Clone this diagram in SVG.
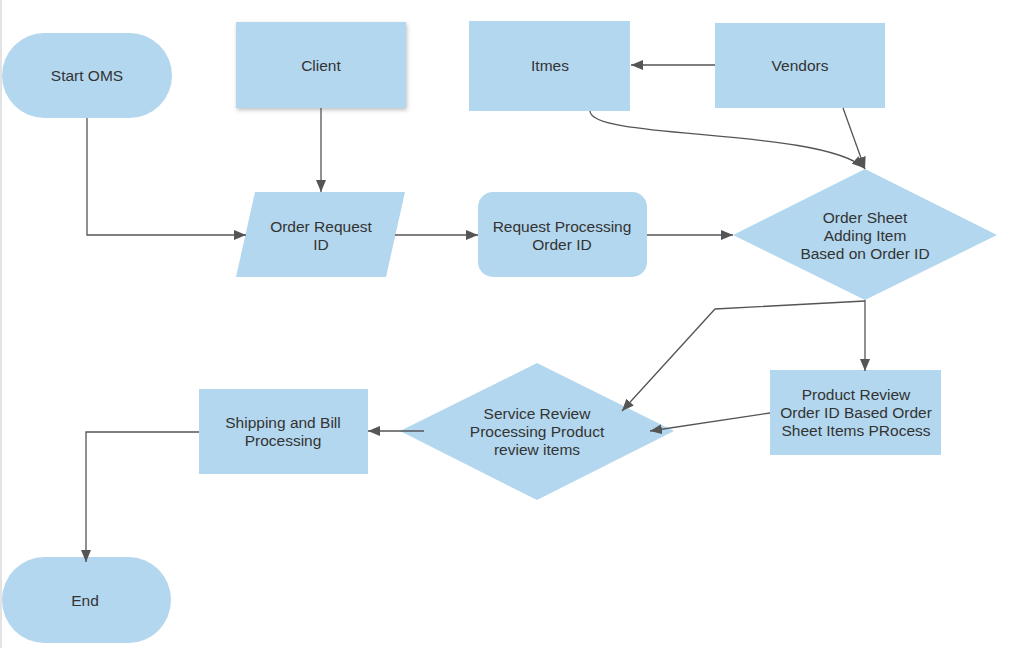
<svg xmlns="http://www.w3.org/2000/svg" width="1016" height="648" viewBox="0 0 1016 648">
<defs>
<style>
.n{fill:#b3d7ee;stroke:none}
.t{font-family:"Liberation Sans",Arial,sans-serif;font-size:15.5px;fill:#333;text-anchor:middle}
.c{fill:none;stroke:#555;stroke-width:1.3}
</style>
<marker id="ah" viewBox="0 0 12 10" refX="12" refY="5" markerWidth="12" markerHeight="10" orient="auto" markerUnits="userSpaceOnUse">
<path d="M0,0 L12,5 L0,10 z" fill="#555"/>
</marker>
<filter id="sh" x="-10%" y="-10%" width="130%" height="140%">
<feDropShadow dx="1" dy="2" stdDeviation="2" flood-color="#000" flood-opacity="0.25"/>
</filter>
</defs>
<rect x="0" y="0" width="1016" height="648" fill="#fff"/>
<line x1="1" y1="0" x2="1" y2="648" stroke="#e3e3e3" stroke-width="2"/>
<g id="start">
<rect class="n" x="2" y="33" width="170" height="85" rx="42.5" ry="42.5"/>
<text class="t" x="87" y="80.5">Start OMS</text>
</g>
<g id="client">
<rect class="n" x="236" y="22" width="170" height="86" filter="url(#sh)"/>
<text class="t" x="321" y="70.5">Client</text>
</g>
<g id="order-request">
<polygon class="n" points="255,192 405,192 386,277 236,277"/>
<text class="t" x="321" y="231.5">Order Request</text>
<text class="t" x="321" y="249.5">ID</text>
</g>
<g id="itmes">
<rect class="n" x="469" y="21" width="161" height="90"/>
<text class="t" x="550" y="70.5">Itmes</text>
</g>
<g id="vendors">
<rect class="n" x="715" y="23" width="170" height="85"/>
<text class="t" x="800" y="70.5">Vendors</text>
</g>
<g id="request-processing">
<rect class="n" x="478" y="192" width="169" height="85" rx="15" ry="15"/>
<text class="t" x="562" y="231.5">Request Processing</text>
<text class="t" x="562" y="249.5">Order ID</text>
</g>
<g id="order-sheet">
<polygon class="n" points="865,169 997,235 865,300 733,235"/>
<text class="t" x="865" y="222.5">Order Sheet</text>
<text class="t" x="865" y="240.5">Adding Item</text>
<text class="t" x="865" y="258.5">Based on Order ID</text>
</g>
<g id="product-review">
<rect class="n" x="770" y="370" width="171" height="85"/>
<text class="t" x="856" y="399.5">Product Review</text>
<text class="t" x="856" y="417.5">Order ID Based Order</text>
<text class="t" x="856" y="435.5">Sheet Items PRocess</text>
</g>
<g id="service-review">
<polygon class="n" points="537,363 674,431 537,500 400,431"/>
<text class="t" x="537" y="418.5">Service Review</text>
<text class="t" x="537" y="436.5">Processing Product</text>
<text class="t" x="537" y="454.5">review items</text>
</g>
<g id="shipping">
<rect class="n" x="199" y="389" width="169" height="85"/>
<text class="t" x="283" y="427.5">Shipping and Bill</text>
<text class="t" x="283" y="445.5">Processing</text>
</g>
<g id="end">
<rect class="n" x="2" y="557" width="169" height="86" rx="42.5" ry="43"/>
<text class="t" x="85" y="605.5">End</text>
</g>
<g id="connectors">
<path class="c" d="M87,118 V235 H246" marker-end="url(#ah)"/>
<path class="c" d="M321,108 V192" marker-end="url(#ah)"/>
<path class="c" d="M395,235 H478" marker-end="url(#ah)"/>
<path class="c" d="M647,235 H733" marker-end="url(#ah)"/>
<path class="c" d="M715,65 H631" marker-end="url(#ah)"/>
<path class="c" d="M590,111 C590,140 820,128 864,168" marker-end="url(#ah)"/>
<path class="c" d="M843,108 L865,169" marker-end="url(#ah)"/>
<path class="c" d="M865,300 V371" marker-end="url(#ah)"/>
<path class="c" d="M865,301 L715,309 L622,411" marker-end="url(#ah)"/>
<path class="c" d="M770,413 L650,431" marker-end="url(#ah)"/>
<path class="c" d="M424,431 H368" marker-end="url(#ah)"/>
<path class="c" d="M199,432 H86 V562" marker-end="url(#ah)"/>
</g>
</svg>
